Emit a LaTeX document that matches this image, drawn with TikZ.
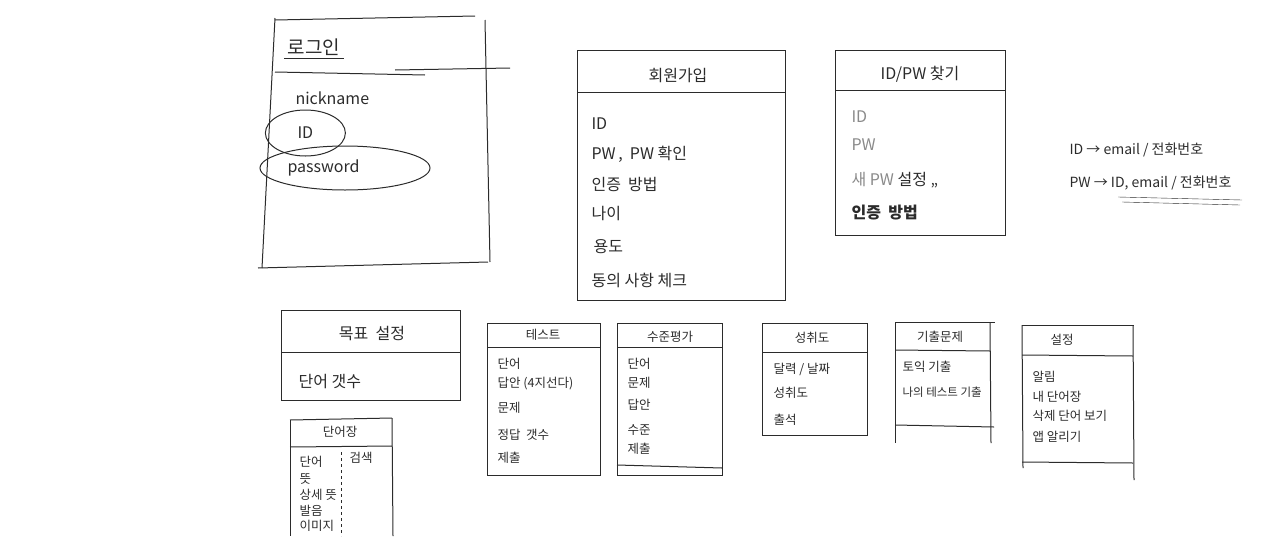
\documentclass[tikz,border=0pt]{standalone}
\usepackage{fontspec}
\setmainfont{Noto Sans CJK KR}
\usepackage{tikz}
\usetikzlibrary{positioning}

\definecolor{pen}{HTML}{2B2B2B}
\definecolor{faint}{HTML}{8A8A8A}

\tikzset{
  box/.style={draw=pen, line width=1pt},
  ttl/.style={text=pen, font=\fontsize{16}{18}\selectfont},
  itm/.style={text=pen, anchor=west, font=\fontsize{16}{18}\selectfont},
  sttl/.style={text=pen, font=\fontsize{12.5}{14}\selectfont},
  sitm/.style={text=pen, anchor=west, font=\fontsize{12.5}{14}\selectfont},
}

\begin{document}
\begin{tikzpicture}[x=1pt,y=-1pt]
\useasboundingbox (0,0) rectangle (1280,536);

% login
\draw[box] (275,20)--(475,16);
\draw[box] (275,18)--(262,268);
\draw[box] (258,268)--(488,262);
\draw[box] (485,20)--(490,262);
\draw[box] (275,72)--(425,75);
\draw[box] (395,70)--(510,68);
\node[ttl, anchor=west, font=\fontsize{19}{21}\selectfont] (login) at (284,47) {로그인};
\draw[box] (login.south west)--(login.south east);
\node[itm] (nick) at (292,98) {nickname};
\node[itm] (lid) at (294,133) {ID};
\node[itm] (lpw) at (284,168) {password};
\draw[box] (lid) ellipse (40 and 23);
\draw[box] (345,168) ellipse (85 and 22);

% sign up
\draw[box] (577,50) rectangle (785,300);
\draw[box] (577,92)--(785,92);
\node[ttl] (join) at (678,76) {회원가입};
\node[itm] (j1) at (588,124) {ID};
\node[itm] (j2) at (588,154) {PW\,, \ PW 확인};
\node[itm] (j3) at (588,184) {인증 \ 방법};
\node[itm] (j4) at (588,214) {나이};
\node[itm] (j5) at (590,247) {용도};
\node[itm] (j6) at (588,280) {동의 사항 체크};

% find id/pw
\draw[box] (835,50) rectangle (1005,235);
\draw[box] (835,90)--(1005,90);
\node[ttl] (find) at (920,74) {ID/PW 찾기};
\node[itm, text=faint] (f1) at (848,117) {ID};
\node[itm, text=faint] (f2) at (848,145) {PW};
\node[itm] (f3) at (848,180) {\textcolor{faint}{새 PW} 설정 ,,};
\node[itm, font=\fontsize{16}{18}\bfseries] (f4) at (848,213) {인증 \ 방법};

% notes
\node[sitm, font=\fontsize{14}{16}\selectfont] (n1) at (1066,150) {ID → email / 전화번호};
\node[sitm, font=\fontsize{14}{16}\selectfont] (n2) at (1066,183) {PW → ID, email / 전화번호};
\draw[pen] (1118,197)--(1242,200);
\draw[pen] (1122,202)--(1240,205);

% goal
\draw[box] (281,310) rectangle (460,400);
\draw[box] (281,352)--(460,352);
\node[ttl] (goal) at (372,334) {목표 \ 설정};
\node[itm] (g1) at (295,382) {단어 갯수};

% word book
\draw[box] (290,420)--(392,418);
\draw[box] (290,420)--(290,536);
\draw[box] (392,418)--(393,536);
\draw[box] (290,447)--(392,446);
\node[sttl] (wb) at (340,432) {단어장};
\draw[pen, dashed, line width=0.9pt] (341,452)--(341,536);
\node[sitm] (w1) at (296,462) {단어};
\node[sitm] (w2) at (296,479) {뜻};
\node[sitm] (w3) at (296,495) {상세 뜻};
\node[sitm] (w4) at (296,511) {발음};
\node[sitm] (w5) at (296,526) {이미지};
\node[sitm] (w6) at (346,458) {검색};

% test
\draw[box] (487,323) rectangle (600,475);
\draw[box] (487,347)--(600,347);
\node[sttl] (test) at (543,335) {테스트};
\node[sitm] (t1) at (494,364) {단어};
\node[sitm] (t2) at (494,384) {답안 (4지선다)};
\node[sitm] (t3) at (494,408) {문제};
\node[sitm] (t4) at (494,435) {정답 \ 갯수};
\node[sitm] (t5) at (494,458) {제출};

% level test
\draw[box] (617,323) rectangle (722,475);
\draw[box] (617,347)--(722,347);
\draw[box] (617,465)--(722,468);
\node[sttl] (lvl) at (670,337) {수준평가};
\node[sitm] (v1) at (624,364) {단어};
\node[sitm] (v2) at (624,383) {문제};
\node[sitm] (v3) at (624,405) {답안};
\node[sitm] (v4) at (624,430) {수준};
\node[sitm] (v5) at (624,449) {제출};

% achievement
\draw[box] (762,323) rectangle (867,435);
\draw[box] (762,352)--(867,352);
\node[sttl] (ach) at (812,338) {성취도};
\node[sitm] (a1) at (770,369) {달력 / 날짜};
\node[sitm] (a2) at (770,393) {성취도};
\node[sitm] (a3) at (770,420) {출석};

% past exams
\draw[box] (895,322)--(995,322);
\draw[box] (895,322)--(895,443);
\draw[box] (990,322)--(991,443);
\draw[box] (895,350)--(990,351);
\draw[box] (895,425)--(994,427);
\node[sttl] (past) at (940,337) {기출문제};
\node[sitm] (p1) at (899,367) {토익 기출};
\node[sitm, font=\fontsize{11.5}{13}\selectfont] (p2) at (899,392) {나의 테스트 기출};

% settings
\draw[box] (1022,325)--(1134,325);
\draw[box] (1022,325)--(1023,468);
\draw[box] (1133,325)--(1134,480);
\draw[box] (1022,355)--(1133,356);
\draw[box] (1022,462)--(1133,463);
\node[sttl] (set) at (1062,340) {설정};
\node[sitm] (s1) at (1029,377) {알림};
\node[sitm] (s2) at (1029,397) {내 단어장};
\node[sitm] (s3) at (1029,416) {삭제 단어 보기};
\node[sitm] (s4) at (1029,437) {앱 알리기};
\end{tikzpicture}
\end{document}
